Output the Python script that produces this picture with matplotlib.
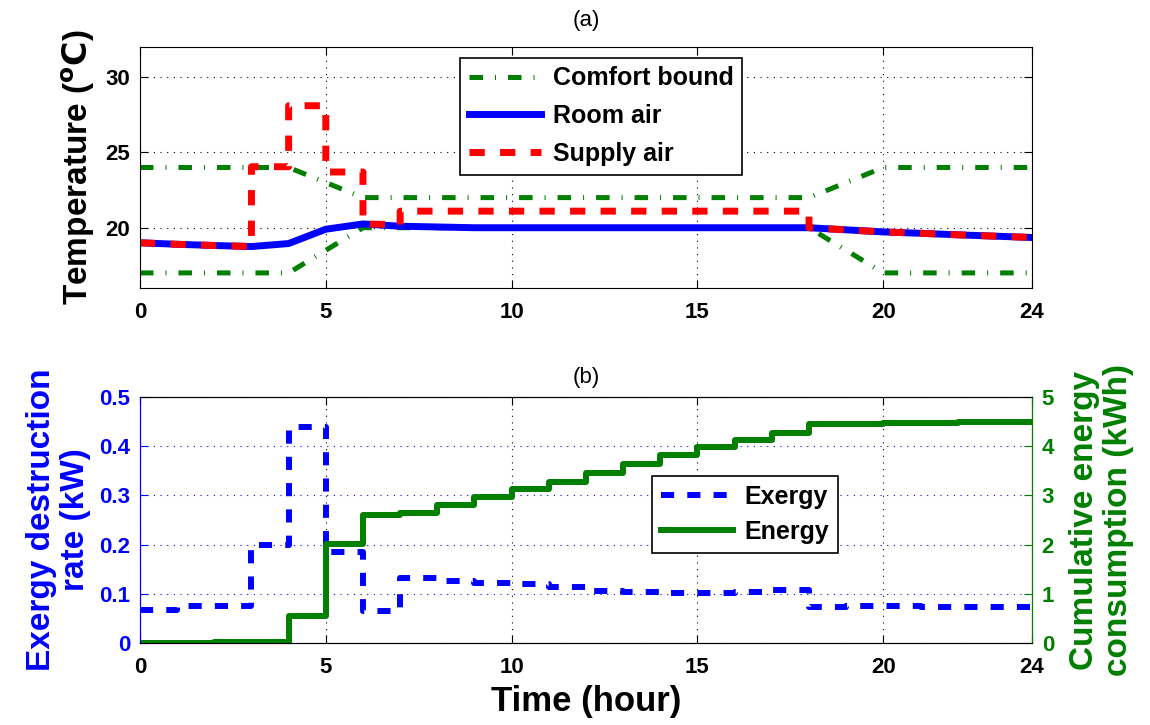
import matplotlib.pyplot as plt
import numpy as np

plt.rcParams['font.family'] = ['Liberation Sans', 'DejaVu Sans']

# ---- dati ----
ore = np.arange(0, 25)

comfort_t = [0, 4, 6, 18, 20, 24]
comfort_sup = [24, 24, 22, 22, 24, 24]
comfort_inf = [17, 17, 20, 20, 17, 17]

aria_stanza = [19.0, 18.9, 18.82, 18.75, 18.95, 19.9, 20.25, 20.1, 20.05, 20.0,
               20.0, 20.0, 20.0, 20.0, 20.0, 20.0, 20.0, 20.0, 20.0, 19.86,
               19.72, 19.63, 19.53, 19.44, 19.35]

mandata_t = [0, 1, 2, 3, 3, 4, 4, 5, 5, 6, 6, 7, 7, 18, 18, 19, 20, 21, 22, 23, 24]
mandata_v = [19.0, 18.9, 18.82, 18.75, 24.05, 24.05, 28.1, 28.1, 23.7, 23.7,
             20.25, 20.2, 21.1, 21.1, 20.0, 19.86, 19.72, 19.63, 19.53, 19.44, 19.35]

exergia = [0.068, 0.075, 0.075, 0.2, 0.44, 0.185, 0.065, 0.132, 0.126, 0.122,
           0.12, 0.114, 0.106, 0.104, 0.101, 0.102, 0.104, 0.107, 0.073, 0.076,
           0.075, 0.074, 0.074, 0.074, 0.074]

energia = [0.0, 0.01, 0.02, 0.03, 0.55, 2.02, 2.6, 2.65, 2.8, 2.97, 3.13, 3.27,
           3.45, 3.64, 3.82, 3.98, 4.13, 4.27, 4.45, 4.46, 4.47, 4.48, 4.49, 4.5, 4.5]

blu = '#0000ff'
verde = '#007f00'
rosso = '#ff0000'
griglia = dict(color='black', linestyle=(0, (1, 5)), linewidth=0.8)

fig = plt.figure(figsize=(11.5, 7.25), dpi=100)

# ---- (a) temperature ----
ax1 = fig.add_axes([0.1217, 0.6028, 0.7757, 0.3324])
ax1.plot(comfort_t, comfort_sup, color=verde, lw=3.6, dashes=(2.7, 2.4, 0.2, 2.4),
         label='Comfort bound')
ax1.plot(comfort_t, comfort_inf, color=verde, lw=3.6, dashes=(2.7, 2.4, 0.2, 2.4))
ax1.plot(ore, aria_stanza, color=blu, lw=5, label='Room air')
ax1.plot(mandata_t, mandata_v, color=rosso, lw=5, dashes=(2.2, 2.2), label='Supply air')
ax1.set_xlim(0, 24)
ax1.set_ylim(16, 32)
ax1.set_xticks([0, 5, 10, 15, 20, 24])
ax1.set_yticks([20, 25, 30])
ax1.grid(True, **griglia)
ax1.set_title('(a)', fontsize=16, pad=15)
ax1.set_ylabel('Temperature ($\\mathbf{^oC}$)', fontsize=24, fontweight='bold', labelpad=6)
ax1.tick_params(direction='in', top=True, right=True, labelsize=16, length=6)
ax1.tick_params(axis='x', pad=10)
ax1.tick_params(axis='y', pad=7)
for lab in ax1.get_xticklabels() + ax1.get_yticklabels():
    lab.set_fontweight('bold')
leg1 = ax1.legend(loc='upper left', bbox_to_anchor=(0.359, 0.956),
                  prop={'weight': 'bold', 'size': 18}, handlelength=2.9,
                  handletextpad=0.45, fancybox=False, edgecolor='black', framealpha=1,
                  borderpad=0.35, borderaxespad=0, labelspacing=0.55)
leg1.get_frame().set_linewidth(1.2)

# ---- (b) exergia / energia ----
ax2 = fig.add_axes([0.1217, 0.1131, 0.7757, 0.3393])
ax3 = ax2.twinx()
l1, = ax2.plot(ore, exergia, color=blu, lw=4.3, dashes=(2.2, 2.2),
               drawstyle='steps-post', label='Exergy')
l2, = ax3.plot(ore, energia, color=verde, lw=4.3, drawstyle='steps-post',
               label='Energy')
ax2.set_xlim(0, 24)
ax2.set_ylim(0, 0.5)
ax3.set_ylim(0, 5)
ax2.set_xticks([0, 5, 10, 15, 20, 24])
ax2.set_yticks([0, 0.1, 0.2, 0.3, 0.4, 0.5])
ax2.set_yticklabels(['0', '0.1', '0.2', '0.3', '0.4', '0.5'])
ax3.set_yticks([0, 1, 2, 3, 4, 5])
ax2.xaxis.grid(True, **griglia)
ax2.yaxis.grid(True, color=blu, linestyle=(0, (1, 5)), linewidth=0.8)
ax2.set_title('(b)', fontsize=16, pad=10)
ax2.set_xlabel('Time (hour)', fontsize=25, fontweight='bold', labelpad=5)
ax2.set_ylabel('Exergy destruction\nrate (kW)', fontsize=24, fontweight='bold',
               color=blu, labelpad=6, linespacing=1.1)
ax3.set_ylabel('Cumulative energy\nconsumption (kWh)', fontsize=24, fontweight='bold',
               color=verde, labelpad=11, linespacing=1.1)
ax2.tick_params(axis='x', direction='in', top=True, labelsize=16, length=6, pad=10)
ax2.tick_params(axis='y', direction='in', colors=blu, labelsize=16, length=6, pad=7)
ax3.tick_params(axis='y', direction='in', colors=verde, labelsize=16, length=6, pad=7)
for lab in ax2.get_xticklabels() + ax2.get_yticklabels() + ax3.get_yticklabels():
    lab.set_fontweight('bold')
ax2.spines['left'].set_color(blu)
ax3.spines['left'].set_color(blu)
ax3.spines['right'].set_color(verde)
leg2 = ax3.legend([l1, l2], ['Exergy', 'Energy'], loc='upper left',
                  bbox_to_anchor=(0.574, 0.679), prop={'weight': 'bold', 'size': 18},
                  handlelength=2.9, handletextpad=0.45, fancybox=False,
                  edgecolor='black', framealpha=1, borderpad=0.35, borderaxespad=0,
                  labelspacing=0.45)
leg2.get_frame().set_linewidth(1.2)

plt.savefig('out.png', dpi=100)
